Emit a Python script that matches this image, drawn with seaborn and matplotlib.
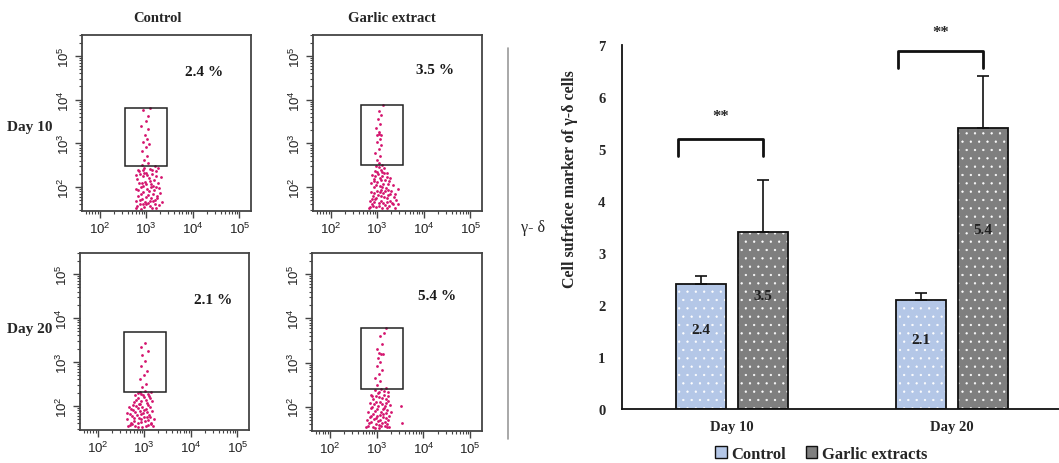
import numpy as np
import pandas as pd
import matplotlib
matplotlib.use("Agg")
import matplotlib.pyplot as plt
import seaborn as sns
from matplotlib.patches import Patch, Rectangle
from matplotlib.lines import Line2D

# ---------------- data ----------------
days = ["Day 10", "Day 20"]
groups = ["Control", "Garlic extracts"]
control_vals = [2.4, 2.1]
garlic_vals = [3.4, 5.4]
control_err = [0.15, 0.13]
garlic_err = [1.0, 1.0]
control_labels = ["2.4", "2.1"]
garlic_labels = ["3.5", "5.4"]

flow_cols = ["Control", "Garlic extract"]
flow_rows = ["Day 10", "Day 20"]
flow_percent = ["2.4 %", "3.5 %", "2.1 %", "5.4 %"]

# flow-cytometry events (log10 units)
ctrl10_x = [2.79, 2.95, 3.12, 3.27, 2.86, 3.03, 3.19, 2.77, 2.91, 3.08, 3.24, 3.33, 2.83, 2.99, 3.15, 2.94,
            3.06, 3.29, 2.78, 2.89, 3.01, 3.20, 3.11, 2.84, 2.97, 3.26, 2.80, 3.05, 3.17, 2.92, 3.31, 2.87,
            3.00, 3.13, 3.22, 2.82, 2.96, 3.09, 3.18, 2.90, 3.04, 2.99, 3.10, 2.88, 3.17, 2.93, 3.02, 2.85,
            2.95, 3.02, 2.90, 3.00, 3.06, 2.93, 3.01, 2.97, 3.04, 2.89, 2.99, 3.03, 2.94, 3.08,
            2.81, 3.07, 3.22, 2.97, 3.14, 2.89, 3.04, 3.23, 2.83, 3.10, 3.28, 2.90, 3.08, 3.20, 2.96, 3.12,
            2.79, 3.26, 2.94, 3.18, 2.86, 3.00, 3.15, 2.93]
ctrl10_y = [1.52, 1.55, 1.53, 1.58, 1.61, 1.64, 1.60, 1.69, 1.72, 1.67, 1.74, 1.66, 1.80, 1.78, 1.83, 1.88,
            1.90, 1.86, 1.95, 1.99, 1.96, 2.01, 2.06, 2.08, 2.12, 2.10, 2.18, 2.20, 2.16, 2.24, 2.22, 2.30,
            2.33, 2.29, 2.36, 2.40, 2.43, 2.41, 2.47, 2.51, 2.55, 1.60, 1.75, 1.50, 1.94, 2.02, 2.27, 2.36,
            2.62, 2.72, 2.83, 2.91, 2.98, 3.04, 3.10, 3.20, 3.32, 3.40, 3.52, 3.63, 3.77, 3.80,
            1.57, 1.56, 1.51, 1.66, 1.69, 1.84, 1.82, 1.80, 1.93, 1.99, 1.97, 2.10, 2.13, 2.26, 2.31, 2.38,
            2.27, 2.44, 1.62, 1.70, 1.71, 2.06, 2.03, 2.40]

garl10_x = [2.82, 2.97, 3.10, 3.25, 3.38, 2.88, 3.03, 3.17, 3.32, 2.84, 2.95, 3.08, 3.21, 3.40, 2.90, 3.01,
            3.14, 3.28, 2.86, 2.99, 3.12, 3.24, 3.44, 2.93, 3.06, 3.19, 3.33, 2.87, 3.00, 3.13, 3.26, 2.92,
            3.05, 3.16, 2.89, 3.02, 3.11, 3.22, 2.95, 3.07, 3.15, 2.98, 3.04, 2.91, 3.20, 3.09, 2.96, 3.30,
            3.36, 3.10, 3.00, 3.06, 2.96, 3.03, 3.08, 2.99, 3.05, 3.00, 3.04, 3.08, 3.03, 2.97, 3.06, 3.01,
            3.09, 3.03, 3.12,
            2.85, 3.04, 3.20, 3.34, 2.93, 3.13, 3.27, 2.98, 3.07, 3.23, 2.92, 3.05, 3.17, 2.97, 3.10, 3.23,
            2.94, 3.09, 3.20, 2.99, 3.14, 3.03, 3.11, 3.38, 3.45, 2.88, 3.27]
garl10_y = [1.52, 1.54, 1.51, 1.56, 1.53, 1.60, 1.63, 1.59, 1.64, 1.69, 1.72, 1.68, 1.74, 1.71, 1.79, 1.82,
            1.78, 1.84, 1.88, 1.91, 1.87, 1.93, 1.95, 1.99, 2.02, 1.98, 2.04, 2.08, 2.11, 2.07, 2.13, 2.18,
            2.21, 2.17, 2.27, 2.30, 2.26, 2.33, 2.37, 2.40, 2.44, 2.48, 2.55, 1.56, 1.66, 1.94, 2.24, 1.90,
            1.77, 2.35, 2.62, 2.70, 2.78, 2.86, 2.95, 3.02, 3.10, 3.20, 3.21, 3.20, 3.26, 3.35, 3.45, 3.56,
            3.65, 3.74, 3.87,
            1.55, 1.57, 1.52, 1.60, 1.65, 1.63, 1.69, 1.75, 1.80, 1.81, 1.86, 1.88, 1.91, 2.05, 2.00, 2.06,
            2.13, 2.16, 2.22, 2.34, 2.31, 2.45, 2.50, 1.85, 1.62, 1.72, 2.20]

ctrl20_x = [2.66, 2.80, 2.95, 3.09, 3.18, 2.72, 2.87, 3.01, 3.14, 2.64, 2.77, 2.93, 3.06, 3.20, 2.70, 2.84,
            2.98, 3.11, 2.75, 2.90, 3.03, 3.16, 2.68, 2.82, 2.96, 3.08, 2.78, 2.92, 3.05, 3.17, 2.86, 3.00,
            3.12, 2.80, 2.94, 3.07, 2.90, 3.02, 3.14, 2.74, 2.99, 2.88,
            2.95, 3.03, 2.90, 3.00, 3.05, 2.93, 3.01, 2.96, 3.07, 2.92, 3.02,
            2.70, 2.86, 3.03, 3.14, 2.79, 2.94, 3.09, 2.73, 2.88, 3.13, 2.80, 2.93, 3.06, 2.71, 2.86, 3.00,
            3.12, 2.76, 2.91, 3.03, 2.83, 2.97, 3.10, 2.87, 2.62]
ctrl20_y = [1.53, 1.55, 1.52, 1.57, 1.54, 1.62, 1.60, 1.65, 1.62, 1.70, 1.73, 1.69, 1.75, 1.71, 1.81, 1.79,
            1.84, 1.80, 1.90, 1.88, 1.93, 1.89, 1.97, 2.00, 1.98, 2.03, 2.08, 2.11, 2.07, 2.12, 2.18, 2.20,
            2.17, 2.25, 2.28, 2.26, 2.32, 2.34, 2.31, 1.58, 1.74, 2.05,
            2.42, 2.50, 2.60, 2.70, 2.80, 2.90, 3.02, 3.15, 3.25, 3.33, 3.42,
            1.56, 1.52, 1.55, 1.58, 1.66, 1.63, 1.68, 1.76, 1.73, 1.75, 1.85, 1.81, 1.87, 1.92, 1.95, 1.90,
            1.97, 2.02, 2.05, 2.13, 2.14, 2.24, 2.22, 2.30, 1.84]

garl20_x = [2.78, 2.92, 3.05, 3.18, 3.27, 2.84, 2.98, 3.11, 3.23, 2.80, 2.94, 3.07, 3.20, 2.88, 3.01, 3.14,
            3.26, 2.82, 2.96, 3.09, 3.22, 2.90, 3.03, 3.16, 3.28, 2.85, 2.99, 3.12, 3.24, 2.93, 3.06, 3.19,
            2.89, 3.02, 3.15, 3.25, 2.97, 3.10, 3.20, 3.53, 3.55, 3.04, 2.91, 3.13,
            3.00, 3.08, 2.97, 3.05, 3.12, 3.00, 3.08, 3.02, 3.10, 3.05, 3.14, 3.00, 3.12, 3.08, 3.15, 3.20,
            2.81, 2.97, 3.10, 3.23, 2.88, 3.03, 3.17, 2.85, 2.99, 3.13, 3.24, 2.93, 3.07, 3.20, 2.87, 3.01,
            3.18, 2.95, 3.08, 3.21, 2.98, 3.12, 3.05, 3.16, 3.25, 3.30]
garl20_y = [1.53, 1.55, 1.52, 1.56, 1.54, 1.62, 1.60, 1.64, 1.61, 1.70, 1.73, 1.69, 1.74, 1.80, 1.78, 1.83,
            1.79, 1.88, 1.91, 1.87, 1.92, 1.99, 2.02, 1.98, 2.04, 2.08, 2.11, 2.07, 2.13, 2.18, 2.21, 2.17,
            2.27, 2.30, 2.26, 2.33, 2.38, 2.40, 2.43, 2.02, 1.62, 1.58, 2.24, 1.95,
            2.50, 2.58, 2.66, 2.75, 2.84, 2.93, 3.02, 3.10, 3.20, 3.21, 3.19, 3.30, 3.42, 3.60, 3.68, 3.78,
            1.57, 1.52, 1.57, 1.53, 1.66, 1.67, 1.65, 1.76, 1.74, 1.76, 1.70, 1.84, 1.82, 1.86, 1.96, 1.95,
            2.02, 2.05, 2.10, 2.08, 2.24, 2.20, 2.34, 2.36, 2.24, 1.88]

# gates (log10 x0, x1, y0, y1)
gate_ctrl10 = [2.54, 3.44, 2.48, 3.81]
gate_garl10 = [2.65, 3.55, 2.50, 3.88]
gate_ctrl20 = [2.57, 3.47, 2.32, 3.69]
gate_garl20 = [2.67, 3.57, 2.39, 3.78]

# ---------------- style ----------------
sns.set_theme(style="white")
plt.rcParams["font.family"] = ["Liberation Serif", "DejaVu Serif"]
plt.rcParams["hatch.linewidth"] = 0.4

W, H = 1059, 464
fig = plt.figure(figsize=(W / 100, H / 100), dpi=100)


def fx(px):
    return px / W


def fy(py):
    return 1 - py / H


MAG = "#d4146e"
panels = [
    (ctrl10_x, ctrl10_y, gate_ctrl10, [82, 36, 251, 212], flow_percent[0], (204, 72)),
    (garl10_x, garl10_y, gate_garl10, [313, 36, 482, 212], flow_percent[1], (435, 70)),
    (ctrl20_x, ctrl20_y, gate_ctrl20, [80, 254, 249, 431], flow_percent[2], (213, 301)),
    (garl20_x, garl20_y, gate_garl20, [312, 254, 482, 432], flow_percent[3], (437, 297)),
]

for xs, ys, gate, (l, t, r, b), pct, (tx, ty) in panels:
    ax = fig.add_axes([fx(l), fy(b), fx(r - l), (b - t) / H])
    ax.set_xscale("log")
    ax.set_yscale("log")
    sns.scatterplot(x=10 ** np.array(xs), y=10 ** np.array(ys), ax=ax, s=4,
                    color=MAG, linewidth=0, legend=False)
    ax.set_xlim(10 ** 1.62, 10 ** 5.25)
    ax.set_ylim(10 ** 1.45, 10 ** 5.48)
    gx0, gx1, gy0, gy1 = gate
    ax.add_patch(Rectangle((10 ** gx0, 10 ** gy0), 10 ** gx1 - 10 ** gx0, 10 ** gy1 - 10 ** gy0,
                           fill=False, ec="#222222", lw=1.1))
    for s in ax.spines.values():
        s.set_color("#444444")
        s.set_linewidth(1.3)
    ax.tick_params(which="major", direction="out", length=5, width=1, color="#444444",
                   labelsize=9.5, pad=2, bottom=True, left=True)
    ax.tick_params(which="minor", direction="out", length=2.5, width=0.8, color="#444444",
                   bottom=True, left=True)
    ax.set_xticks([1e2, 1e3, 1e4, 1e5])
    ax.set_yticks([1e2, 1e3, 1e4, 1e5])
    for lab in ax.get_xticklabels() + ax.get_yticklabels():
        lab.set_fontfamily(["Liberation Sans", "DejaVu Sans"])
        lab.set_color("#222222")
    for lab in ax.get_yticklabels():
        lab.set_rotation(90)
        lab.set_va("center")
    ax.set_xlabel("")
    ax.set_ylabel("")
    fig.text(fx(tx), fy(ty), pct, ha="center", va="center", fontsize=11, fontweight="bold",
             color="#1a1a1a")

fig.text(fx(157), fy(18), flow_cols[0], ha="center", va="center", fontsize=10.5, fontweight="bold")
fig.text(fx(392), fy(18), flow_cols[1], ha="center", va="center", fontsize=10.5, fontweight="bold")
fig.text(fx(30), fy(128), flow_rows[0], ha="center", va="center", fontsize=11, fontweight="bold")
fig.text(fx(30), fy(330), flow_rows[1], ha="center", va="center", fontsize=11, fontweight="bold")

# separator and gamma-delta label
fig.add_artist(Line2D([fx(508), fx(508)], [fy(49), fy(440)], color="#9a9a9a", lw=1.2))
fig.text(fx(533), fy(228), "γ- δ", ha="center", va="center", fontsize=11.5)

# ---------------- bar chart ----------------
axb = fig.add_axes([fx(622), fy(410), fx(1059 - 622), (410 - 46) / H])
df = pd.DataFrame({
    "day": days + days,
    "group": [groups[0]] * len(days) + [groups[1]] * len(days),
    "value": control_vals + garlic_vals,
})
C_CTRL = "#b4c7e7"
C_GARL = "#7f7f7f"
sns.barplot(data=df, x="day", y="value", hue="group", hue_order=groups, order=days,
            palette=[C_CTRL, C_GARL], width=0.56, gap=0.19, errorbar=None, ax=axb,
            legend=False, edgecolor="white", linewidth=0, saturation=1)

bars = sorted([p for p in axb.patches if p.get_height() > 0], key=lambda p: p.get_x())
errs = [control_err[0], garlic_err[0], control_err[1], garlic_err[1]]
labels = [control_labels[0], garlic_labels[0], control_labels[1], garlic_labels[1]]
cx = []
hs = []
for p, lab in zip(bars, labels):
    p.set_hatch("..")
    p.set_edgecolor("white")
    p.set_linewidth(0)
    axb.add_patch(Rectangle((p.get_x(), 0), p.get_width(), p.get_height(), fill=False,
                            ec="#111111", lw=1.3, zorder=3))
    c = p.get_x() + p.get_width() / 2
    cx.append(c)
    hs.append(p.get_height())
    axb.text(c, p.get_height() * 0.64, lab, ha="center", va="center", fontsize=11,
             fontweight="bold", color="#1f1f1f", zorder=4)

axb.errorbar(cx, hs, yerr=[[0] * len(errs), errs], fmt="none", ecolor="#111111",
             elinewidth=1.2, capsize=4, capthick=1.2, zorder=2)

# significance brackets
bracket_top = [5.19, 6.88]
bracket_drop = 0.32
star_y = [5.63, 7.25]
for i in range(2):
    left = bars[2 * i].get_x() + 0.01
    right = cx[2 * i + 1]
    yt = bracket_top[i]
    axb.plot([left, left, right, right], [yt - bracket_drop, yt, yt, yt - bracket_drop],
             color="#111111", lw=2, solid_joinstyle="round", clip_on=False)
    axb.text((left + right) / 2, star_y[i], "**", ha="center", va="center", fontsize=12,
             fontweight="bold", clip_on=False)

axb.set_ylim(0, 7)
axb.set_xlim(-0.5, 1.487)
axb.set_yticks(range(0, 8))
axb.set_yticklabels([str(v) for v in range(0, 8)])
axb.tick_params(axis="both", length=0, labelsize=10.5)
axb.tick_params(axis="y", pad=12)
axb.tick_params(axis="x", pad=8)
for lab in axb.get_xticklabels() + axb.get_yticklabels():
    lab.set_fontweight("bold")
axb.set_xlabel("")
axb.set_ylabel("Cell sufrface marker of γ-δ cells", fontsize=11.5, fontweight="bold")
axb.yaxis.set_label_coords(-0.10, 0.635)
for side in ["top", "right"]:
    axb.spines[side].set_visible(False)
for side in ["left", "bottom"]:
    axb.spines[side].set_color("#111111")
    axb.spines[side].set_linewidth(1.3)

handles = [Patch(facecolor=C_CTRL, edgecolor="#111111", lw=1.0, label=groups[0]),
           Patch(facecolor=C_GARL, edgecolor="#111111", lw=1.0, label=groups[1])]
fig.legend(handles=handles, loc="center", bbox_to_anchor=(fx(821), fy(455)), ncol=2,
           frameon=False, handlelength=0.7, handleheight=0.7, handletextpad=0.25,
           columnspacing=1.2, prop={"family": "Liberation Serif", "weight": "bold", "size": 12})

fig.savefig("out.png", dpi=100)
